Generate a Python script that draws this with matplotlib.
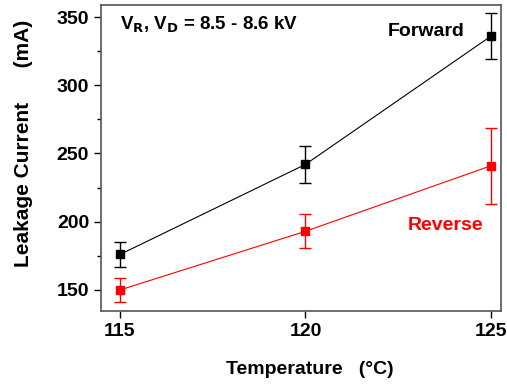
import matplotlib.pyplot as plt
from matplotlib.ticker import MultipleLocator

plt.rcParams['font.family'] = ['Liberation Sans', 'DejaVu Sans']
plt.rcParams['font.weight'] = 'bold'

temp = [115, 120, 125]
fwd = [176, 242, 336]
fwd_err = [9.5, 13.5, 17]
rev = [150, 193, 241]
rev_err = [9, 12.5, 28]

fig = plt.figure(figsize=(5.07, 3.85), dpi=100)
ax = fig.add_axes([101/507, 1 - 311/385, 400/507, 306/385])

ax.errorbar(temp, fwd, yerr=fwd_err, color='black', lw=0.8, marker='s', ms=6,
            capsize=4, elinewidth=1.0, capthick=1.0)
ax.errorbar(temp, rev, yerr=rev_err, color='red', lw=0.8, marker='s', ms=6,
            capsize=4, elinewidth=1.0, capthick=1.0)

ax.set_xlim(114.49, 125.27)
ax.set_ylim(134.6, 358.8)
ax.set_xticks(temp)
ax.yaxis.set_major_locator(MultipleLocator(50))
ax.yaxis.set_minor_locator(MultipleLocator(25))
ax.tick_params(axis='both', which='major', labelsize=14, length=5, width=1, direction='out')
ax.tick_params(axis='y', which='minor', length=3, width=1, direction='out')
for lab in ax.get_xticklabels() + ax.get_yticklabels():
    lab.set_fontweight('bold')
for s in ax.spines.values():
    s.set_color('#555555')
    s.set_linewidth(1.2)

ax.set_xlabel('Temperature   (\u00b0C)', fontsize=14, fontweight='bold')
ax.set_ylabel('Leakage Current      (mA)', fontsize=15, fontweight='bold')
ax.xaxis.set_label_coords(0.5225, -0.165)
ax.yaxis.set_label_coords(-0.17, 0.547)

ax.text(0.0475, 0.935, r'V$_\mathbf{R}$, V$_\mathbf{D}$ = 8.5 - 8.6 kV', transform=ax.transAxes,
        fontsize=13.5, fontweight='bold', va='center')
ax.text(0.91, 0.915, 'Forward', transform=ax.transAxes, fontsize=14, fontweight='bold',
        color='black', ha='right', va='center')
ax.text(0.955, 0.281, 'Reverse', transform=ax.transAxes, fontsize=14, fontweight='bold',
        color='red', ha='right', va='center')

fig.savefig('out.png', dpi=100)
